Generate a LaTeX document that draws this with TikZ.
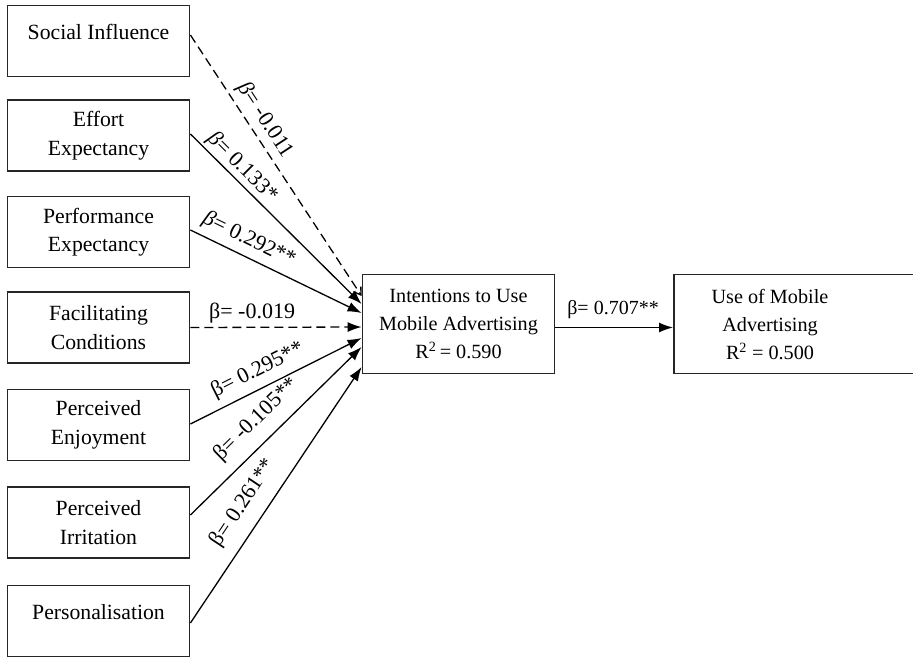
\documentclass[tikz,border=0pt]{standalone}
\usepackage{fontspec}
\setmainfont{Liberation Serif}
\usetikzlibrary{arrows.meta,calc}
\begin{document}
\begin{tikzpicture}[x=1pt,y=-1pt,
  box/.style={draw=black!85, line width=1.8pt, inner sep=0pt},
  txt/.style={align=center, inner sep=0pt, font=\fontsize{21.7}{28.5}\selectfont},
  ctxt/.style={align=center, inner sep=0pt, font=\fontsize{20.2}{28}\selectfont},
  leftbox/.style={box, txt, minimum width=182pt, minimum height=71pt},
  conn/.style={line width=1.3pt, -{Latex[length=14pt,width=10pt]}},
  dashconn/.style={line width=1.3pt, dash pattern=on 9pt off 5pt, -{Straight Barb[length=7pt,width=9pt]}},
  dashfill/.style={conn, dash pattern=on 9pt off 5pt},
  lab/.style={font=\fontsize{22}{26}\selectfont, inner sep=1pt}]
\useasboundingbox (0,0) rectangle (913,660);
\begin{scope}
\clip (0,0) rectangle (913,660);
% left boxes
\node[leftbox] (si) at (98.5,41) {};
\node[txt] (sit) at (98.5,32) {Social Influence};
\node[leftbox] (ee) at (98.5,135.5) {Effort\\Expectancy};
\node[leftbox] (pe) at (98.5,232) {Performance\\Expectancy};
\node[leftbox] (fc) at (98.5,327.5) {Facilitating\\Conditions};
\node[leftbox] (pj) at (98.5,425) {Perceived\\Enjoyment};
\node[leftbox] (pi) at (98.5,522.5) {Perceived\\Irritation};
\node[leftbox] (ps) at (98.5,621) {};
\node[txt] (pst) at (98.5,612) {Personalisation};
% central box
\node[box, ctxt, minimum width=192pt, minimum height=99pt] (int) at (458.5,324) {Intentions to Use\\Mobile Advertising\\R\textsuperscript{2}\,= 0.590};
% right box
\node[box, minimum width=250pt, minimum height=99pt, anchor=west] (use) at (673,324) {};
\node[ctxt] (uset) at (770,325) {Use of Mobile\\Advertising\\R\textsuperscript{2} = 0.500};
\end{scope}
% connectors
\draw[dashconn] ($(si.east)+(0,-6)$) -- node[lab, pos=0.36, sloped, above=4pt] {\textit{β}= -0.011} ($(int.west)+(0,-28)$);
\draw[conn] ($(ee.east)+(0,-1.5)$) -- node[lab, pos=0.25, sloped, above=1pt] {\textit{β}= 0.133*} ($(int.west)+(0,-20)$);
\draw[conn] ($(pe.east)+(0,-2)$) -- node[lab, pos=0.30, sloped, above=5pt] {\textit{β}= 0.292**} ($(int.west)+(0,-11)$);
\draw[dashfill] ($(fc.east)+(0,0)$) -- node[lab, pos=0.36, above=2pt] {β= -0.019} ($(int.west)+(0,3)$);
\draw[conn] ($(pj.east)+(0,-1)$) -- node[lab, pos=0.44, sloped, above=6pt] {β= 0.295**} ($(int.west)+(0,14)$);
\draw[conn] ($(pi.east)+(0,-7.5)$) -- node[lab, pos=0.476, sloped, above=10pt] {β= -0.105**} ($(int.west)+(0,23)$);
\draw[conn] ($(ps.east)+(0,2)$) -- node[lab, pos=0.42, sloped, above=11pt] {β= 0.261**} ($(int.west)+(0,43)$);
\draw[conn] ($(int.east)+(0,3.5)$) -- node[lab, font=\fontsize{20}{24}\selectfont, pos=0.49, above=7pt] {β= 0.707**} ($(use.west)+(0,3.5)$);
\end{tikzpicture}
\end{document}
